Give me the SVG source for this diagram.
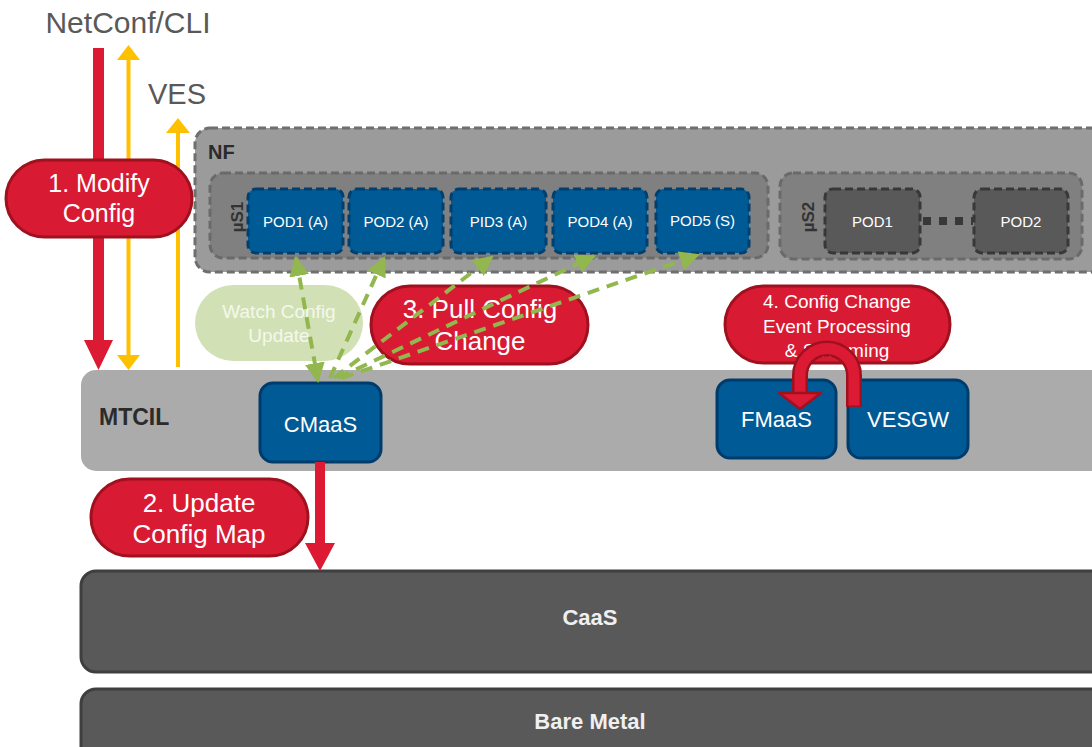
<svg xmlns="http://www.w3.org/2000/svg" width="1092" height="747" viewBox="0 0 1092 747">
<defs>
<style>
text{font-family:"Liberation Sans",Arial,sans-serif;}
.pill{fill:#d91a33;stroke:#a0111f;stroke-width:3;}
.pilltxt{fill:#ffffff;text-anchor:middle;}
.pod{fill:#005a96;stroke:#003f6e;stroke-width:3;stroke-dasharray:8 4;}
.podg{fill:#595959;stroke:#383838;stroke-width:3;stroke-dasharray:8 4;}
.podtxt{fill:#ffffff;font-size:15px;text-anchor:middle;}
.svc{fill:#005a96;stroke:#003c6b;stroke-width:3;}
.svctxt{fill:#ffffff;font-size:22px;text-anchor:middle;}
.layer{fill:#595959;stroke:#3f3f3f;stroke-width:3;}
.layertxt{fill:#f0f0f0;font-size:22px;font-weight:bold;text-anchor:middle;}
.green{stroke:#92b74f;stroke-width:4;stroke-dasharray:12 8;fill:none;}
.yellow{fill:#ffc000;}
.red{fill:#dc1a33;}
</style>
<marker id="gh" viewBox="0 0 10 10" refX="9" refY="5" markerWidth="5" markerHeight="5" markerUnits="strokeWidth" orient="auto-start-reverse">
<path d="M0,0 L10,5 L0,10 z" fill="#92b74f"/>
</marker>
</defs>

<!-- Top labels -->
<text x="128" y="33" font-size="30" fill="#595959" text-anchor="middle">NetConf/CLI</text>
<text x="177" y="104" font-size="29" fill="#595959" text-anchor="middle">VES</text>

<!-- NF container -->
<g id="nf">
<rect x="195" y="128" width="910" height="144" rx="15" fill="#9b9b9b" stroke="#6f6f6f" stroke-width="3" stroke-dasharray="8 4"/>
<text x="208" y="159" font-size="20" font-weight="bold" fill="#2b2b2b">NF</text>
</g>
<g id="us1">
<rect x="210" y="173" width="558" height="85" rx="13" fill="#808080" stroke="#6a6a6a" stroke-width="3" stroke-dasharray="8 4"/>
<text transform="translate(243,217) rotate(-90)" font-size="17" font-weight="bold" fill="#333" text-anchor="middle">µS1</text>
</g>
<g id="pod1a"><rect class="pod" x="248" y="189" width="95" height="64" rx="8"/><text class="podtxt" x="295.5" y="227">POD1 (A)</text></g>
<g id="pod2a"><rect class="pod" x="349" y="189" width="94" height="64" rx="8"/><text class="podtxt" x="396" y="227">POD2 (A)</text></g>
<g id="pid3a"><rect class="pod" x="451" y="189" width="95" height="64" rx="8"/><text class="podtxt" x="498.5" y="227">PID3 (A)</text></g>
<g id="pod4a"><rect class="pod" x="553" y="189" width="94" height="64" rx="8"/><text class="podtxt" x="600" y="227">POD4 (A)</text></g>
<g id="pod5s"><rect class="pod" x="656" y="189" width="93" height="64" rx="8"/><text class="podtxt" x="702.5" y="226">POD5 (S)</text></g>

<g id="us2">
<rect x="780" y="173" width="302" height="86" rx="13" fill="#808080" stroke="#6a6a6a" stroke-width="3" stroke-dasharray="8 4"/>
<text transform="translate(814,217) rotate(-90)" font-size="17" font-weight="bold" fill="#333" text-anchor="middle">µS2</text>
</g>
<g id="us2pod1"><rect class="podg" x="825" y="189" width="95" height="64" rx="8"/><text class="podtxt" x="872.5" y="227">POD1</text></g>
<g id="us2pod2"><rect class="podg" x="974" y="189" width="94" height="64" rx="8"/><text class="podtxt" x="1021" y="227">POD2</text></g>

<!-- MTCIL -->
<g id="mtcil">
<rect x="81" y="370" width="1030" height="101" rx="15" fill="#ababab"/>
<text x="99" y="425" font-size="23" font-weight="bold" fill="#2b2b2b">MTCIL</text>
</g>
<g id="cmaas"><rect class="svc" x="260" y="383" width="121" height="79" rx="13"/><text class="svctxt" x="320.5" y="432">CMaaS</text></g>
<g id="fmaas"><rect class="svc" x="717" y="380" width="119" height="78" rx="13"/><text class="svctxt" x="776.5" y="427">FMaaS</text></g>
<g id="vesgw"><rect class="svc" x="848" y="380" width="120" height="78" rx="13"/><text class="svctxt" x="908" y="427">VESGW</text></g>

<!-- CaaS / Bare Metal -->
<g id="caas"><rect class="layer" x="81" y="571" width="1030" height="101" rx="15"/><text class="layertxt" x="590" y="625">CaaS</text></g>
<g id="baremetal"><rect class="layer" x="81" y="689" width="1030" height="80" rx="15"/><text class="layertxt" x="590" y="729">Bare Metal</text></g>

<!-- Connectors -->
<g id="connectors">
<polygon class="red" points="93,48 104,48 104,340 113,340 98.5,370 84,340 93,340"/>
<polygon class="yellow" points="128.5,45 140,60 130.5,60 130.5,355 140,355 128.5,370 117,355 126.5,355 126.5,60 117,60"/>
<polygon class="yellow" points="178,118 190,133 180,133 180,367 176,367 176,133 166,133"/>
<line x1="923" y1="221" x2="973" y2="221" stroke="#383838" stroke-width="8" stroke-dasharray="8 8"/>
<polygon class="red" points="315,462 325,462 325,543 335,543 320,571 305,543 315,543"/>
</g>

<!-- Pills -->
<g id="pill1"><rect class="pill" x="6" y="160" width="186" height="77" rx="38.5"/>
<text class="pilltxt" x="99" y="192" font-size="25">1. Modify</text><text class="pilltxt" x="99" y="222" font-size="25">Config</text></g>
<g id="pill2"><rect class="pill" x="91" y="479" width="217" height="77" rx="38.5"/>
<text class="pilltxt" x="199" y="512" font-size="26">2. Update</text><text class="pilltxt" x="199" y="543" font-size="26">Config Map</text></g>
<g id="watch"><rect x="195" y="285" width="168" height="76" rx="38" fill="#d2e1b5"/>
<text x="279" y="318" font-size="19" fill="#f4f8ec" text-anchor="middle">Watch Config</text><text x="279" y="342" font-size="19" fill="#f4f8ec" text-anchor="middle">Update</text></g>
<g id="pill3"><rect class="pill" x="371" y="286" width="217" height="78" rx="39"/>
<text class="pilltxt" x="480" y="318" font-size="26">3. Pull Config</text><text class="pilltxt" x="480" y="350" font-size="26">Change</text></g>
<g id="pill4"><rect class="pill" x="725" y="286" width="225" height="77" rx="38.5"/>
<text class="pilltxt" x="837" y="308" font-size="19">4. Config Change</text><text class="pilltxt" x="837" y="333" font-size="19">Event Processing</text><text class="pilltxt" x="837" y="357" font-size="19">&amp; Streaming</text></g>

<!-- Green dashed connectors -->
<g id="green-connectors">
<line class="green" x1="296" y1="258" x2="318" y2="381" marker-start="url(#gh)" marker-end="url(#gh)"/>
<line class="green" x1="330" y1="378" x2="384" y2="258" marker-end="url(#gh)"/>
<line class="green" x1="334" y1="378" x2="492" y2="257" marker-end="url(#gh)"/>
<line class="green" x1="338" y1="378" x2="594" y2="256" marker-end="url(#gh)"/>
<line class="green" x1="342" y1="378" x2="698" y2="255" marker-end="url(#gh)"/>
</g>

<!-- Curved arrow VESGW -> FMaaS -->
<g id="curved-arrow">
<path d="M854,407 L854,375.5 A27,27 0 0 0 800,375.5 L800,394" fill="none" stroke="#a0111f" stroke-width="16"/>
<path d="M854,405.5 L854,375.5 A27,27 0 0 0 800,375.5 L800,396" fill="none" stroke="#dc1a33" stroke-width="11"/>
<polygon points="779,393 821,393 800,409" fill="#dc1a33" stroke="#a0111f" stroke-width="2.5" stroke-linejoin="round"/>
</g>
</svg>
